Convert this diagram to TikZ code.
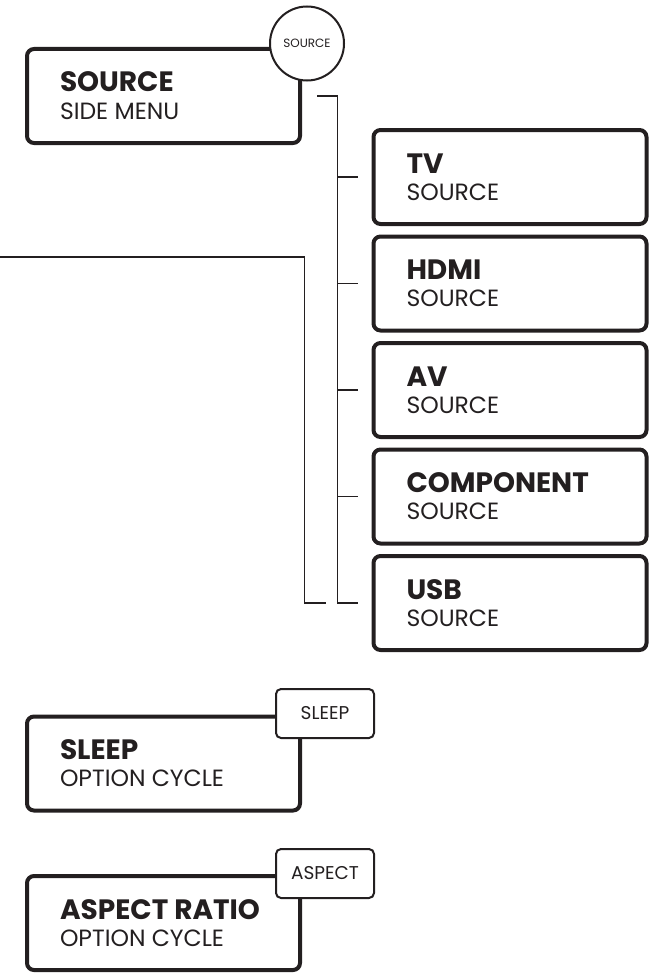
\documentclass[tikz,border=0pt]{standalone}
\usepackage{fontspec}
\setmainfont{Poppins}
\usepackage{tikz}
\usetikzlibrary{positioning}
\usepackage{xcolor}
\definecolor{ink}{HTML}{231F20}

\begin{document}
\begin{tikzpicture}[x=1pt, y=-1pt, node distance=12.5pt,
    every node/.style={inner sep=0pt, outer sep=0pt, text=ink},
    menubox/.style={draw=ink, line width=4pt, rounded corners=7pt, minimum width=273pt, minimum height=94pt, fill=white},
    keytag/.style={draw=ink, line width=2pt, rounded corners=5pt, minimum width=98pt, minimum height=49pt, fill=white, font=\fontsize{18.5}{19}\selectfont},
    keyball/.style={draw=ink, line width=2pt, circle, minimum size=74pt, fill=white, font=\fontsize{12}{12}\selectfont},
    boxtitle/.style={anchor=base west, font=\bfseries\fontsize{28}{29}\selectfont},
    boxsub/.style={anchor=base west, font=\fontsize{23.5}{24}\selectfont},
    wire/.style={draw=ink, line width=1.6pt}]
    \useasboundingbox (0,0) rectangle (656,974);
    % source side menu
    \node[menubox] (src) at (163.5,96) {};
    \node[boxtitle] (srct) at ([xshift=33pt,yshift=-43pt]src.north west) {SOURCE};
    \node[boxsub] (srcs) at ([xshift=33pt,yshift=-70pt]src.north west) {SIDE MENU};
    \node[keyball] (srck) at (307,43.5) {SOURCE};
    % sources
    \node[menubox] (tv) at (510,177) {};
    \node[menubox, below=of tv] (hdmi) {};
    \node[menubox, below=of hdmi] (av) {};
    \node[menubox, below=of av] (comp) {};
    \node[menubox, below=of comp] (usb) {};
    \node[boxtitle] (tvt) at ([xshift=33pt,yshift=-43pt]tv.north west) {TV};
    \node[boxsub] (tvs) at ([xshift=33pt,yshift=-70pt]tv.north west) {SOURCE};
    \node[boxtitle] (hdmit) at ([xshift=33pt,yshift=-43pt]hdmi.north west) {HDMI};
    \node[boxsub] (hdmis) at ([xshift=33pt,yshift=-70pt]hdmi.north west) {SOURCE};
    \node[boxtitle] (avt) at ([xshift=33pt,yshift=-43pt]av.north west) {AV};
    \node[boxsub] (avs) at ([xshift=33pt,yshift=-70pt]av.north west) {SOURCE};
    \node[boxtitle] (compt) at ([xshift=33pt,yshift=-43pt]comp.north west) {COMPONENT};
    \node[boxsub] (comps) at ([xshift=33pt,yshift=-70pt]comp.north west) {SOURCE};
    \node[boxtitle] (usbt) at ([xshift=33pt,yshift=-43pt]usb.north west) {USB};
    \node[boxsub] (usbs) at ([xshift=33pt,yshift=-70pt]usb.north west) {SOURCE};
    % brackets
    \coordinate (bustop) at ([xshift=17pt]src.east);
    \coordinate (feed) at (0,257);
    \draw[wire] (bustop) -| ([xshift=-36pt]usb.west) -- ([xshift=-16pt]usb.west);
    \draw[wire] ([xshift=-36pt]tv.west) -- ([xshift=-16pt]tv.west);
    \draw[wire] ([xshift=-36pt]hdmi.west) -- ([xshift=-16pt]hdmi.west);
    \draw[wire] ([xshift=-36pt]av.west) -- ([xshift=-16pt]av.west);
    \draw[wire] ([xshift=-36pt]comp.west) -- ([xshift=-16pt]comp.west);
    \draw[wire] (feed) -| ([xshift=-69pt]usb.west) -- ([xshift=-48pt]usb.west);
    % option cycles
    \node[menubox] (slp) at (163.5,763.5) {};
    \node[boxtitle] (slpt) at ([xshift=33pt,yshift=-43pt]slp.north west) {SLEEP};
    \node[boxsub] (slps) at ([xshift=33pt,yshift=-70pt]slp.north west) {OPTION CYCLE};
    \node[keytag] (slpk) at (325,713.5) {SLEEP};
    \node[menubox] (asp) at (163.5,923) {};
    \node[boxtitle] (aspt) at ([xshift=33pt,yshift=-43pt]asp.north west) {ASPECT RATIO};
    \node[boxsub] (asps) at ([xshift=33pt,yshift=-70pt]asp.north west) {OPTION CYCLE};
    \node[keytag] (aspk) at (325,873.5) {ASPECT};
\end{tikzpicture}
\end{document}
